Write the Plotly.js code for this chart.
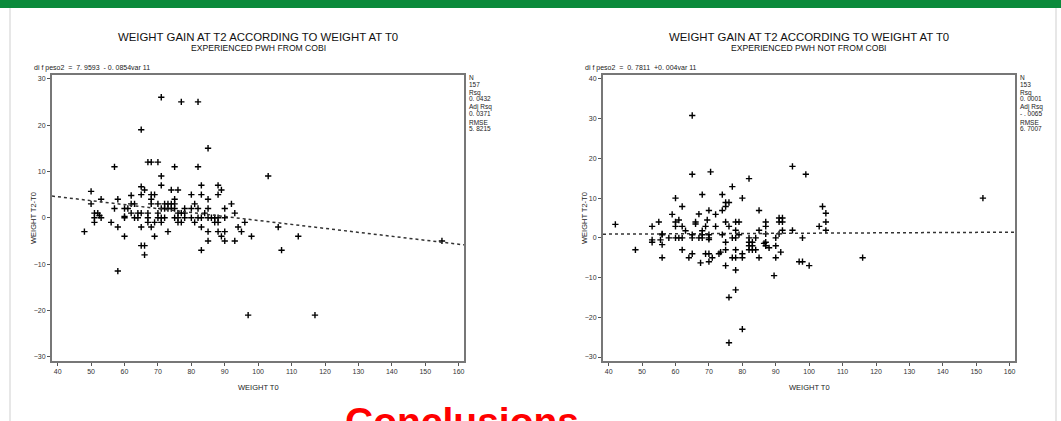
<!DOCTYPE html>
<html>
<head>
<meta charset="utf-8">
<script src="https://cdn.plot.ly/plotly-3.0.1.min.js"></script>
<style>html,body{margin:0;padding:0;background:#fff;}#chart{width:1061px;height:421px;}</style>
</head>
<body>
<div id="chart"></div>
<script>
// ---- Data ----
const mainTitle = "WEIGHT GAIN AT T2 ACCORDING TO WEIGHT AT T0";
const leftSubtitle = "EXPERIENCED PWH FROM COBI";
const rightSubtitle = "EXPERIENCED PWH NOT FROM COBI";
const xTitle = "WEIGHT T0";
const yTitle = "WEIGHT T2-T0";
const xTicks = [40,50,60,70,80,90,100,110,120,130,140,150,160];
const leftYTicks = [-30,-20,-10,0,10,20,30];
const rightYTicks = [-30,-20,-10,0,10,20,30,40];

// Left panel (PWH from COBI)
const leftX = [71,77,82,65,85,57,67,68,70,75,82,103,71,71,50,50,53,58,62,65,65,66,68,69,68,74,76,75,80,83,83,85,88,88,89,81,92,93,96,90,
 51,52,51,51,52.5,53,48,56,57,58,58,60,61,60,60,60,62,62,63,63,64,64,65,65,65,66,66,67,67,67,68,68,69,69,70,70,71,72,70,71,71,72,73,72,73,74,75,73,74,75,75,76,76,77,76,77,78,78,78,80,80,81,82,82,83,83,83,84,85,86,87,85,85,85,87,88,88,88,89,90,90,90,93,94,95,97,98,
 106,107,112,117,155];
const leftY = [26,25,25,19,15,11,12,12,12,11,11,9,9,7,5.7,3,4,4,4.8,6.7,5,6,5,5,4,6,6,4,5,7,5,4,7,5,6,3,3,1,-1,2,
 1,1,0,-1,0.5,0,-3,-1,2,-2,-11.5,2,2,0.3,0,-4,3,1,3,0,0,1,1,-2,-6,-6,-8,1,0,-1,3,-2,-1,-4,1,0,0,0,3,-1,2,2,2,3,3,3,3,-3,2,2,0,0,1,1,-1,-1,0,1,2,2,0,-1,2,0,0,-2,-7,1,0,0,0,-3,-5,2,-1,-1,0,-3,-4,0,-3,-5,-5,-2,-3,-21,-4,
 -2,-7,-4,-21,-5];
const leftIntercept = 7.9593, leftSlope = -0.0854;
const leftEq = "di f peso2  =  7. 9593  - 0. 0854var 11";
const leftStats = [["N","157"],["Rsq","0. 0432"],["Adj Rsq","0. 0371"],["RMSE","5. 8215"]];

// Right panel (PWH not from COBI)
const rightX = [42,48,53,53,53,55,55.5,56,56,56,56,58,59,60,60,60,60,61,61,62,62,62,62,63,64,65,65,65,65,65,66,66,67,67,67.5,68,68,68,68,69,69,69.5,70,70.5,70,70,70,70,70,71,72,72,73,73.5,74,74,74,75,75,75,75,75,75,76,76,76,76,77,77,77,78,78,78,78,78,78,78,79,79,80,80,80,80,82,82,82,82,82,83,83,83,84,84,85,85,85,86.5,87,87,87,87,87,88,89.5,90,90,90,91,91,91,91.5,92,92,92,95,95,97,98,98,99,100,103,104,105,105,105,116,152];
const rightY = [3.4,-3,2.9,-0.5,-1.1,4,-0.5,-1.7,-5,0.8,1,0,5.9,10,4,2.9,0,4.5,0,7.9,2.9,0,-3,1.8,-5,30.8,16,-4,0.8,0,4,3.5,6,0,-6.3,10.9,1.8,0.8,0,2.9,-4,4.5,6.9,16.6,0.8,0,-0.4,-4,-6,-5,5.9,2.9,-4,-3.6,10.9,6.9,0.8,8.9,7.9,4,-1.1,-3,-7,8.9,2.9,-15,-26.4,12.9,0,-5,4,1.9,0,-3,-5,-8.1,-13.1,4,0.8,10,-4,-5,-23,14.9,0,-1.1,-2,-3,-1.1,-2,-3,0,-3,6.9,1.9,-5,-1.4,4,2.9,1,-1.1,-2,-2.5,-9.5,0,-2,-5,5,4,1,-3.6,5,4,1.9,18,1.9,-6,0,-6,16,-7,2.9,7.9,6.2,4,1.9,-5,10];
const rightIntercept = 0.7811, rightSlope = 0.004;
const rightEq = "di f peso2  =  0. 7811  +0. 004var 11";
const rightStats = [["N","153"],["Rsq","0. 0001"],["Adj Rsq","- . 0065"],["RMSE","6. 7007"]];

// ---- Layout geometry (pixels) ----
const W = 1061, H = 421;
const FONT = "Liberation Sans, Arial, Helvetica, sans-serif";
const xRange = [38.3, 161.6];
const px = v => v / W;
const py = v => 1 - v / H;

const marker = {symbol: "cross-thin-open", size: 4.5, color: "#000", line: {color: "#000", width: 1.4}};
function fit(a, b) { return xRange.map(x => a + b * x); }

const traces = [
  {x: leftX, y: leftY, xaxis: "x", yaxis: "y", mode: "markers", type: "scatter", marker: marker, hoverinfo: "x+y"},
  {x: xRange, y: fit(leftIntercept, leftSlope), xaxis: "x", yaxis: "y", mode: "lines", type: "scatter",
   line: {color: "#333", width: 1.5, dash: "dot"}, hoverinfo: "skip"},
  {x: rightX, y: rightY, xaxis: "x2", yaxis: "y2", mode: "markers", type: "scatter", marker: marker, hoverinfo: "x+y"},
  {x: xRange, y: fit(rightIntercept, rightSlope), xaxis: "x2", yaxis: "y2", mode: "lines", type: "scatter",
   line: {color: "#333", width: 1.5, dash: "dot"}, hoverinfo: "skip"}
];

function axisBase() {
  return {showgrid: false, zeroline: false, showline: true, mirror: true, linecolor: "#777", linewidth: 2,
    ticks: "outside", ticklen: 3, tickwidth: 1, tickcolor: "#555",
    tickfont: {family: FONT, size: 7, color: "#333"}, fixedrange: true};
}
const yDom = [py(361), py(75)];

const layout = {
  width: W, height: H, margin: {l: 0, r: 0, t: 0, b: 0},
  paper_bgcolor: "#fff", plot_bgcolor: "#fff", showlegend: false,
  font: {family: FONT, color: "#000"},
  xaxis: Object.assign(axisBase(), {domain: [px(52), px(464)], range: xRange, tickvals: xTicks, anchor: "y"}),
  yaxis: Object.assign(axisBase(), {domain: yDom, range: [-30.9, 30.8], tickvals: leftYTicks, anchor: "x"}),
  xaxis2: Object.assign(axisBase(), {domain: [px(603), px(1015)], range: xRange, tickvals: xTicks, anchor: "y2"}),
  yaxis2: Object.assign(axisBase(), {domain: yDom, range: [-31, 41], tickvals: rightYTicks, anchor: "x2"}),
  shapes: [
    {type: "rect", xref: "paper", yref: "paper", x0: 0, x1: 1, y0: py(8), y1: 1, fillcolor: "#0b8a3b", line: {width: 0}},
    {type: "line", xref: "paper", yref: "paper", x0: px(10), x1: px(10), y0: 0, y1: py(8), line: {color: "#cfcfcf", width: 1}},
    {type: "line", xref: "paper", yref: "paper", x0: px(1056), x1: px(1056), y0: 0, y1: py(8), line: {color: "#cfcfcf", width: 1}}
  ],
  annotations: []
};

function addPanel(cx, leftEdge, rightEdge, subtitle, eq, stats) {
  const A = layout.annotations;
  A.push({text: mainTitle, xref: "paper", yref: "paper", x: px(cx), y: py(37), xanchor: "center", yanchor: "middle",
    showarrow: false, font: {family: FONT, size: 11.4, color: "#111"}});
  A.push({text: subtitle, xref: "paper", yref: "paper", x: px(cx), y: py(48), xanchor: "center", yanchor: "middle",
    showarrow: false, font: {family: FONT, size: 8.6, color: "#111"}});
  A.push({text: eq, xref: "paper", yref: "paper", x: px(leftEdge - 20), y: py(68), xanchor: "left", yanchor: "middle",
    showarrow: false, font: {family: FONT, size: 7, color: "#222"}});
  stats.forEach((s, i) => {
    const y0 = 78 + i * 14.7;
    A.push({text: s[0], xref: "paper", yref: "paper", x: px(rightEdge + 3), y: py(y0),
      xanchor: "left", yanchor: "middle", showarrow: false, font: {family: FONT, size: 6.5, color: "#222"}});
    A.push({text: s[1], xref: "paper", yref: "paper", x: px(rightEdge + 3), y: py(y0 + 6),
      xanchor: "left", yanchor: "middle", showarrow: false, font: {family: FONT, size: 6.5, color: "#222"}});
  });
  A.push({text: yTitle, xref: "paper", yref: "paper", x: px(leftEdge - 18), y: py(218), xanchor: "center", yanchor: "middle",
    textangle: -90, showarrow: false, font: {family: FONT, size: 7.5, color: "#222"}});
  A.push({text: xTitle, xref: "paper", yref: "paper", x: px(cx), y: py(387), xanchor: "center", yanchor: "middle",
    showarrow: false, font: {family: FONT, size: 7.5, color: "#222"}});
}
addPanel(258, 52, 464, leftSubtitle, leftEq, leftStats);
addPanel(809, 603, 1015, rightSubtitle, rightEq, rightStats);

layout.annotations.push({text: "<b>Conclusions</b>", xref: "paper", yref: "paper", x: px(343), y: py(398),
  xanchor: "left", yanchor: "top", showarrow: false, font: {family: FONT, size: 39, color: "#ff0000"}});

Plotly.newPlot("chart", traces, layout, {displayModeBar: false, staticPlot: true});
</script>
</body>
</html>
